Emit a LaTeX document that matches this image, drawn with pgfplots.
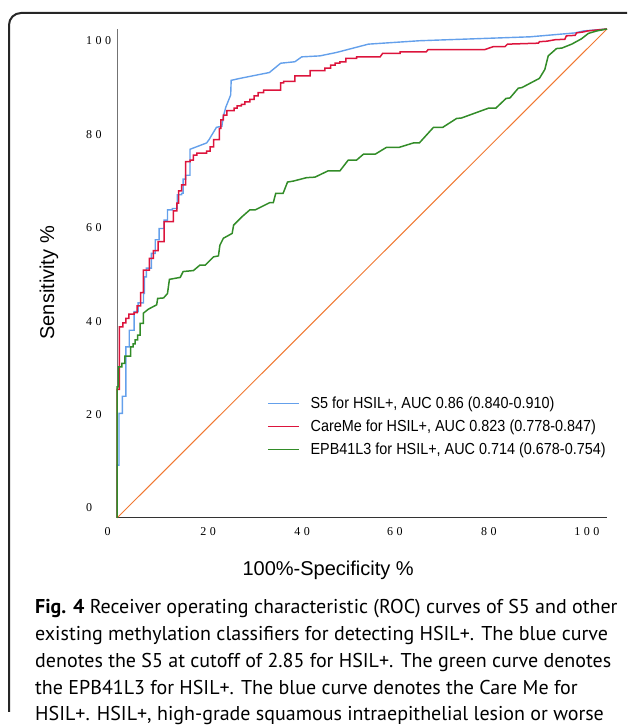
\documentclass[border=0pt]{standalone}
\usepackage{fontspec}
\setmainfont{Liberation Sans}
\newfontfamily\legfont[FakeStretch=0.9]{Liberation Sans}
\newfontfamily\tickfont{Liberation Serif}
\newfontfamily\capfont{PT Sans}
\usepackage{pgfplots}
\pgfplotsset{compat=1.18}
\definecolor{s5blue}{RGB}{100,160,235}
\definecolor{carered}{RGB}{220,20,60}
\definecolor{epbgreen}{RGB}{50,140,40}
\definecolor{refline}{RGB}{240,120,50}
\newcommand{\sk}{\kern3.5pt}

\begin{document}
\begin{tikzpicture}
\path[use as bounding box, clip] (0pt,0pt) rectangle (627pt,727pt);

% frame round the figure
\draw[line width=2pt, black!85, rounded corners=12pt] (9pt,15pt) -- (9pt,714pt) -- (660pt,714pt);

\begin{axis}[
  at={(117pt,209pt)}, anchor=south west,
  width=490pt, height=489pt, scale only axis,
  xmin=0, xmax=100, ymin=0, ymax=100,
  clip=false,
  axis x line*=bottom, axis y line*=left,
  x axis line style={black!80, line width=1pt, -},
  y axis line style={black!55, line width=1pt, -},
  major tick length=0pt,
  xtick={0,18.6,37.8,56.7,75.9,95.9},
  xticklabels={\makebox[0pt][r]{0\hspace*{6.5pt}}, 2\sk 0, 4\sk 0, 6\sk 0, 8\sk 0, 1\sk 0\sk 0},
  ytick={2.1,21.2,40.2,59.3,78.5,97.6},
  yticklabels={0, 2\sk 0, 4\sk 0, 6\sk 0, 8\sk 0, 1\sk 0\sk 0},
  xticklabel style={font=\tickfont\fontsize{12}{12}\selectfont, anchor=center, yshift=-14pt},
  yticklabel style={font=\tickfont\fontsize{12}{12}\selectfont, anchor=west, xshift=-31pt, inner sep=0pt},
  xlabel={100\%-Specificity \%},
  ylabel={Sensitivity \%},
  every axis x label/.style={at={(axis description cs:0.431,-0.1166)}, anchor=base, font=\fontsize{20}{20}\selectfont},
  every axis y label/.style={at={(axis description cs:-0.139,0.481)}, rotate=90, anchor=center, font=\fontsize{20}{20}\selectfont},
  legend style={at={(axis cs:30.6,25.0)}, anchor=north west, draw=none, fill=none,
    font=\legfont\fontsize{16}{16}\selectfont, inner sep=0pt,
    nodes={inner sep=1pt}, row sep=8pt, column sep=10pt},
  legend cell align=left,
]

\addplot[refline, line width=1pt, forget plot] coordinates {(0,0) (100,100)};

\addplot[s5blue, line width=1.4pt,
  legend image code/.code={\draw[s5blue, line width=1.4pt] (0pt,0pt) -- (31pt,0pt);}] coordinates {
(0,0) (0,10.8) (0.4,10.8) (0.4,21.4) (1.1,21.4) (1.1,24.9) (1.8,24.9) (1.8,35.0)
(2.5,35.0) (2.5,38.4) (3.5,38.4) (3.5,42.2) (4.3,42.2) (4.3,44.0) (5.4,44.0) (5.4,45.9)
(5.6,45.9) (5.6,49.3) (6.0,49.3) (6.0,51.1) (7.0,51.1) (7.0,54.1) (7.8,54.1) (7.8,56.9)
(8.6,56.9) (8.6,59.2) (9.6,59.2) (9.6,60.9) (10.3,60.9) (10.3,63.0) (11.3,63.0) (11.3,63.3)
(12.3,63.3) (12.3,66.1) (13.2,66.1) (13.2,66.4) (13.5,66.4) (13.5,69.3) (14.0,69.3) (14.0,70.1)
(14.9,70.1) (14.9,75.4) (18.3,76.7) (18.8,77.4) (20.3,79.9) (21.4,80.1) (21.7,82.1) (22.2,84.0)
(22.8,85.5) (23.2,86.5) (23.3,89.5) (25.1,89.9) (31.1,91.1) (33.4,93.0) (36.3,93.3) (37.7,94.3)
(41.4,94.5) (44.8,95.2) (51.3,96.9) (61.8,97.6) (84.3,98.4) (93.5,99.2) (95.2,99.6) (100,100)
};
\addlegendentry{S5 for HSIL+, AUC 0.86 (0.840-0.910)}

\addplot[carered, line width=1.5pt,
  legend image code/.code={\draw[carered, line width=1.5pt] (0pt,0pt) -- (31pt,0pt);}] coordinates {
(0,0) (0,26.3) (0.5,26.3) (0.5,39.1) (1.2,39.1) (1.2,39.9) (1.8,39.9) (1.8,40.8)
(2.4,40.8) (2.4,41.7) (3.5,41.7) (3.5,42.0) (4.1,42.0) (4.1,43.4) (4.8,43.4) (4.8,46.1)
(5.4,46.1) (5.4,50.7) (6.6,50.7) (6.6,53.1) (7.4,53.1) (7.4,54.7) (8.4,54.7) (8.4,56.5)
(9.6,56.5) (9.6,60.6) (11.5,60.6) (11.5,62.8) (12.2,62.8) (12.2,64.4) (12.6,64.4) (12.6,66.9)
(13.2,66.9) (13.2,68.1) (14.0,68.1) (14.0,72.9) (14.9,72.9) (14.9,73.2) (15.6,73.2) (15.6,74.2)
(16.3,74.2) (16.3,74.6) (18.3,74.6) (18.3,75.0) (19.0,75.0) (19.0,75.9) (19.7,75.9) (19.7,77.4)
(20.9,77.4) (20.9,79.7) (21.2,79.7) (21.2,81.4) (21.7,81.4) (21.7,82.4) (22.4,82.4) (22.4,83.3)
(23.9,83.3) (23.9,83.8) (24.5,83.8) (24.5,84.3) (25.4,84.3) (25.4,84.6) (26.1,84.6) (26.1,85.1)
(27.1,85.1) (27.1,85.6) (28.0,85.6) (28.0,86.3) (28.8,86.3) (28.8,87.0) (29.9,87.0) (29.9,87.5)
(33.4,87.5) (33.4,89.0) (34.0,89.0) (34.0,89.3) (36.3,89.3) (36.3,90.4) (39.4,90.4) (39.4,91.5)
(42.4,91.5) (42.4,92.0) (43.6,92.0) (43.6,92.6) (44.5,92.6) (44.5,93.0) (45.5,93.0) (45.5,93.3)
(46.7,93.3) (46.7,94.0) (48.9,94.0) (48.9,94.3) (53.7,94.3) (54.2,95.0) (57.8,95.0) (57.8,95.3)
(63.1,95.3) (63.5,95.8) (75.1,95.8) (76.8,96.4) (79.2,96.4) (79.7,96.9) (86.0,97.1) (86.2,97.4)
(87.7,97.5) (89.4,97.8) (91.4,97.9) (91.7,98.6) (93.5,98.7) (93.8,99.2) (95.2,99.4) (96.0,99.6)
(100,100)
};
\addlegendentry{CareMe for HSIL+, AUC 0.823 (0.778-0.847)}

\addplot[epbgreen, line width=1.5pt,
  legend image code/.code={\draw[epbgreen, line width=1.5pt] (0pt,0pt) -- (31pt,0pt);}] coordinates {
(0,0) (0,26.8) (0.3,26.8) (0.3,30.9) (1.0,30.9) (1.0,31.6) (1.6,31.6) (1.6,33.1)
(2.8,33.1) (2.8,35.0) (3.3,35.0) (3.3,35.6) (3.7,35.6) (3.7,36.4) (4.2,36.4) (4.2,37.4)
(4.7,37.4) (4.7,39.8) (5.4,39.8) (5.4,41.9) (6.4,42.7) (8.1,43.6) (8.3,44.9) (9.5,45.0)
(10.3,45.9) (10.7,48.8) (12.9,49.2) (13.5,50.4) (15.6,50.6) (16.9,51.7) (18.0,51.7) (19.7,53.4)
(20.7,53.6) (21.0,55.8) (21.7,57.2) (23.5,58.2) (23.8,59.9) (24.8,60.9) (25.5,61.6) (27.1,63.0)
(28.2,63.0) (31.2,64.5) (31.9,64.5) (32.4,66.4) (33.9,66.4) (34.8,68.7) (36.0,68.9) (38.7,69.6)
(40.4,69.7) (43.1,71.0) (45.5,71.0) (47.2,73.2) (48.9,73.2) (50.3,74.4) (52.7,74.4) (55.0,75.8)
(57.6,75.8) (60.5,76.7) (61.7,76.7) (64.6,79.9) (66.5,79.9) (69.3,81.7) (70.3,81.8) (75.8,83.8)
(77.3,83.8) (79.4,85.8) (80.2,85.9) (81.9,87.9) (82.6,88.0) (86.2,89.9) (87.3,91.7) (88.0,94.5)
(89.7,96.0) (90.8,96.1) (92.8,96.9) (94.8,98.0) (96.2,99.1) (97.9,99.6) (100,100)
};
\addlegendentry{EPB41L3 for HSIL+, AUC 0.714 (0.678-0.754)}

\end{axis}

% caption
\begin{scope}[every node/.style={anchor=base west, inner sep=0pt, font=\capfont\fontsize{20}{20}\selectfont}]
\node at (35pt,113pt) {\textbf{Fig. 4} Receiver operating characteristic (ROC) curves of S5 and other};
\node at (35pt,86pt) {existing methylation classifiers for detecting HSIL+. The blue curve};
\node at (35pt,59pt) {denotes the S5 at cutoff of 2.85 for HSIL+. The green curve denotes};
\node at (35pt,32pt) {the EPB41L3 for HSIL+. The blue curve denotes the Care Me for};
\node at (35pt,6pt) {HSIL+. HSIL+, high-grade squamous intraepithelial lesion or worse};
\end{scope}
\end{tikzpicture}
\end{document}
